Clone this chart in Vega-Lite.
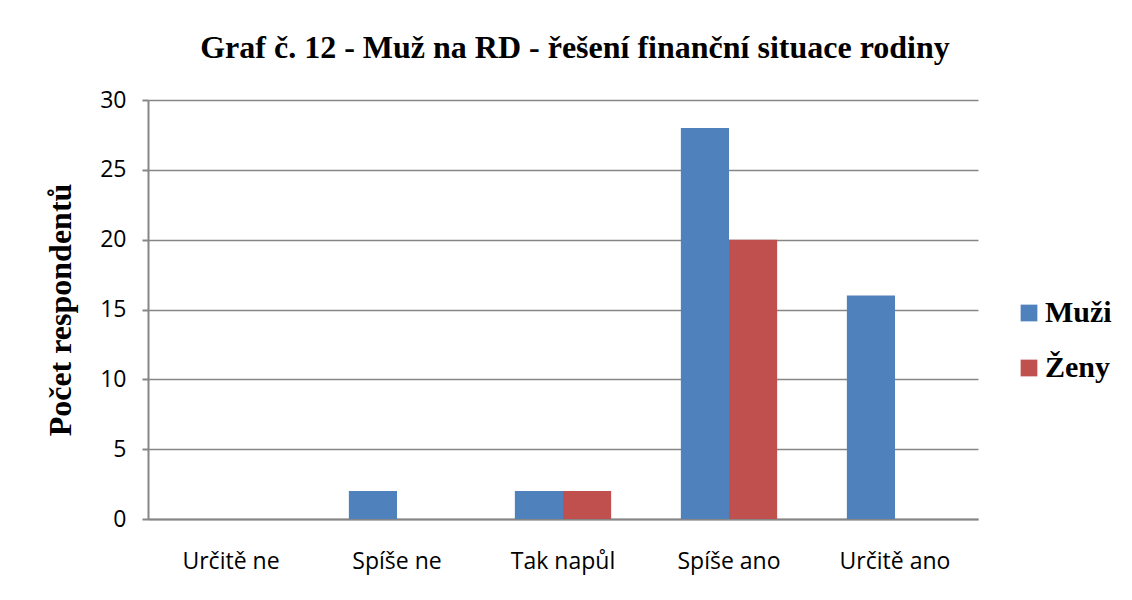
{
  "$schema": "https://vega.github.io/schema/vega-lite/v6.json",
  "autosize": {"type": "none"},
  "width": 830,
  "height": 419,
  "padding": {"left": 148, "top": 100, "right": 154, "bottom": 81},
  "background": "white",
  "title": {
    "text": "Graf č. 12 - Muž na RD - řešení finanční situace rodiny",
    "font": "Liberation Serif",
    "fontSize": 32,
    "fontWeight": "bold",
    "color": "#000000",
    "anchor": "middle",
    "dx": 12,
    "offset": 24
  },
  "data": {
    "values": [
      {"kategorie": "Určitě ne", "skupina": "Muži", "pocet": 0},
      {"kategorie": "Určitě ne", "skupina": "Ženy", "pocet": 0},
      {"kategorie": "Spíše ne", "skupina": "Muži", "pocet": 2},
      {"kategorie": "Spíše ne", "skupina": "Ženy", "pocet": 0},
      {"kategorie": "Tak napůl", "skupina": "Muži", "pocet": 2},
      {"kategorie": "Tak napůl", "skupina": "Ženy", "pocet": 2},
      {"kategorie": "Spíše ano", "skupina": "Muži", "pocet": 28},
      {"kategorie": "Spíše ano", "skupina": "Ženy", "pocet": 20},
      {"kategorie": "Určitě ano", "skupina": "Muži", "pocet": 16},
      {"kategorie": "Určitě ano", "skupina": "Ženy", "pocet": 0}
    ]
  },
  "mark": {"type": "bar"},
  "encoding": {
    "x": {
      "field": "kategorie",
      "type": "nominal",
      "sort": ["Určitě ne", "Spíše ne", "Tak napůl", "Spíše ano", "Určitě ano"],
      "scale": {"paddingInner": 0.42, "paddingOuter": 0.21},
      "axis": {
        "title": null,
        "labelAngle": 0,
        "labelFont": "Open Sans",
        "labelFontSize": 23,
        "labelColor": "#000000",
        "labelPadding": 31,
        "ticks": false,
        "domainColor": "#868686",
        "domainWidth": 2,
        "grid": false
      }
    },
    "xOffset": {"field": "skupina", "type": "nominal", "sort": ["Muži", "Ženy"]},
    "y": {
      "field": "pocet",
      "type": "quantitative",
      "scale": {"domain": [0, 30], "nice": false},
      "axis": {
        "title": "Počet respondentů",
        "titleFont": "Liberation Serif",
        "titleFontSize": 32,
        "titleFontWeight": "bold",
        "titleColor": "#000000",
        "titlePadding": 22,
        "values": [0, 5, 10, 15, 20, 25, 30],
        "labelFont": "Open Sans",
        "labelFontSize": 23,
        "labelColor": "#000000",
        "labelPadding": 16,
        "tickSize": 6,
        "tickColor": "#868686",
        "tickWidth": 2,
        "domainColor": "#868686",
        "domainWidth": 2,
        "grid": true,
        "gridColor": "#868686",
        "gridWidth": 1.5
      }
    },
    "color": {
      "field": "skupina",
      "type": "nominal",
      "sort": ["Muži", "Ženy"],
      "scale": {"domain": ["Muži", "Ženy"], "range": ["#4F81BD", "#C0504D"]},
      "legend": {
        "title": null,
        "orient": "none",
        "legendX": 866,
        "legendY": 198,
        "symbolType": "square",
        "symbolSize": 280,
        "symbolStrokeWidth": 0,
        "labelFont": "Liberation Serif",
        "labelFontSize": 30,
        "labelFontWeight": "bold",
        "labelColor": "#000000",
        "rowPadding": 25,
        "labelOffset": 1
      }
    }
  },
  "config": {"view": {"stroke": null}}
}
